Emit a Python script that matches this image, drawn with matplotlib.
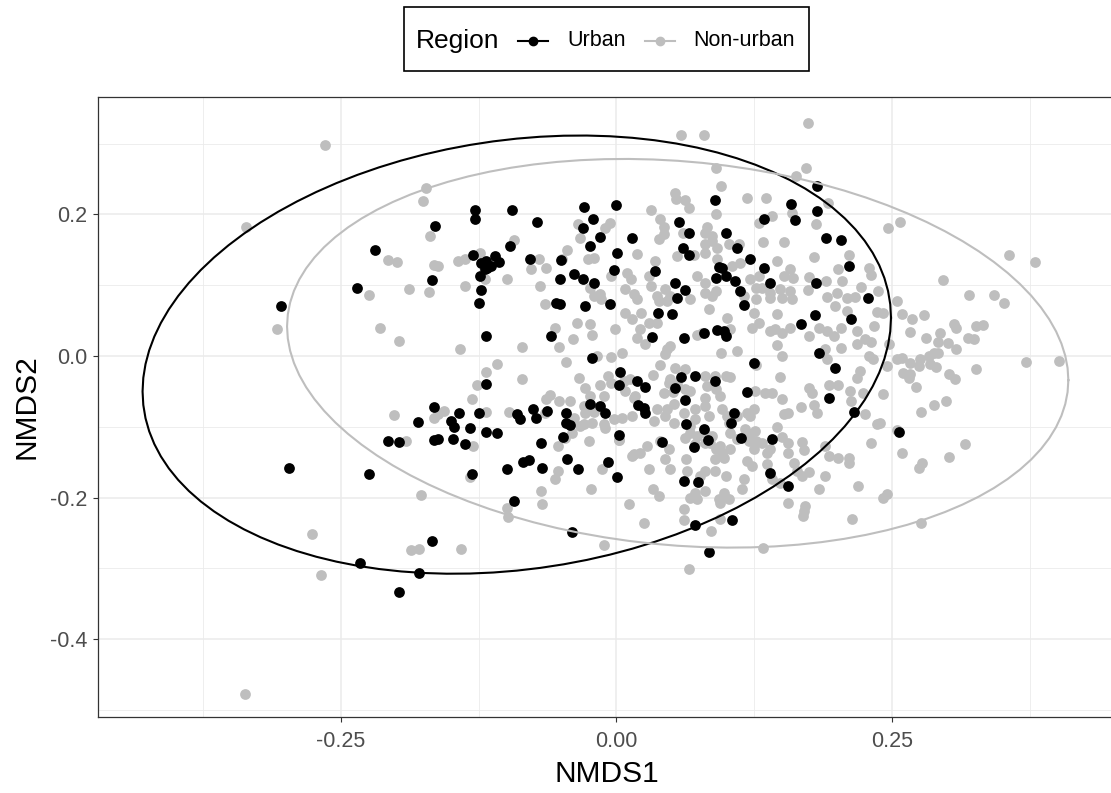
import numpy as np
import matplotlib
matplotlib.use("Agg")
import matplotlib.pyplot as plt
from matplotlib.lines import Line2D
from matplotlib.patches import Rectangle

plt.rcParams['font.family'] = ['Liberation Sans', 'DejaVu Sans']

# ---------------- data (NMDS scores) ----------------
urban_pts = [
    (-0.164, 0.184), (-0.219, 0.150), (-0.167, 0.107), (-0.235, 0.096), (-0.304, 0.071),
    (-0.165, -0.072), (-0.180, -0.093), (-0.207, -0.120), (-0.197, -0.122), (-0.165, -0.118),
    (-0.297, -0.158), (-0.224, -0.166), (-0.232, -0.292), (-0.167, -0.261), (-0.179, -0.306),
    (-0.197, -0.334), (-0.040, -0.248), (0.071, -0.239), (0.084, -0.277), (0.105, -0.232),
    (0.182, 0.240), (0.158, 0.215), (0.182, 0.205), (0.162, 0.192), (0.190, 0.167),
    (0.204, 0.164), (0.211, 0.127), (0.181, 0.103), (0.228, 0.082), (0.180, 0.058),
    (0.167, 0.045), (0.213, 0.052), (0.184, 0.004), (0.198, -0.017), (0.193, -0.059),
    (0.215, -0.079), (0.256, -0.108), (0.156, -0.183), (-0.128, 0.207), (-0.128, 0.193),
    (-0.095, 0.207), (-0.029, 0.210), (0.000, 0.214), (-0.072, 0.189), (-0.021, 0.193),
    (-0.030, 0.181), (-0.015, 0.168), (-0.024, 0.155), (-0.096, 0.155), (0.014, 0.167),
    (0.057, 0.189), (0.066, 0.174), (0.099, 0.174), (0.109, 0.152), (0.134, 0.193),
    (0.060, 0.152), (0.066, 0.143), (0.121, 0.137), (0.093, 0.126), (0.096, 0.124),
    (0.090, 0.110), (0.099, 0.113), (0.108, 0.106), (0.112, 0.092), (0.134, 0.124),
    (0.139, 0.103), (0.116, 0.072), (-0.002, 0.121), (0.001, 0.145), (0.035, 0.120),
    (0.053, 0.103), (0.062, 0.093), (0.055, 0.082), (-0.038, 0.116), (-0.030, 0.109),
    (-0.020, 0.103), (-0.051, 0.109), (-0.050, 0.135), (-0.006, 0.073), (-0.028, 0.071),
    (-0.078, 0.137), (-0.055, 0.075), (-0.051, 0.073), (-0.130, 0.143), (-0.123, 0.131),
    (-0.118, 0.134), (-0.114, 0.127), (-0.110, 0.141), (-0.106, 0.133), (-0.119, 0.123),
    (-0.124, 0.113), (-0.117, 0.124), (-0.123, 0.093), (-0.125, 0.075), (0.089, 0.220),
    (-0.118, 0.028), (-0.059, 0.028), (0.038, 0.061), (0.050, 0.059), (0.032, 0.027),
    (0.061, 0.025), (0.079, 0.033), (0.091, 0.037), (0.099, 0.028), (0.098, 0.035),
    (0.125, -0.010), (-0.022, -0.003), (-0.118, -0.040), (0.003, -0.023), (0.002, -0.041),
    (0.019, -0.035), (0.026, -0.044), (0.059, -0.030), (0.071, -0.028), (0.053, -0.045),
    (0.062, -0.062), (0.089, -0.035), (0.118, -0.051), (0.020, -0.069), (0.025, -0.073),
    (0.026, -0.081), (-0.024, -0.068), (-0.015, -0.071), (-0.010, -0.081), (-0.046, -0.081),
    (-0.046, -0.095), (-0.042, -0.098), (-0.076, -0.075), (-0.073, -0.088), (-0.090, -0.082),
    (-0.087, -0.089), (-0.063, -0.078), (-0.125, -0.081), (-0.143, -0.081), (-0.150, -0.092),
    (-0.147, -0.100), (-0.133, -0.102), (-0.118, -0.107), (-0.108, -0.109), (-0.162, -0.117),
    (-0.148, -0.117), (-0.137, -0.124), (-0.068, -0.123), (-0.048, -0.114), (0.002, -0.112),
    (-0.045, -0.145), (-0.035, -0.160), (-0.008, -0.150), (0.001, -0.171), (-0.085, -0.150),
    (-0.079, -0.147), (-0.067, -0.158), (-0.099, -0.160), (-0.131, -0.166), (-0.093, -0.205),
    (0.041, -0.121), (0.063, -0.096), (0.079, -0.103), (0.083, -0.119), (0.070, -0.128),
    (0.061, -0.176), (0.074, -0.178), (0.104, -0.095), (0.107, -0.081), (0.113, -0.116),
    (0.141, -0.117), (0.139, -0.165),
]

nonurban_pts = [
    (-0.264, 0.298), (-0.336, 0.182), (-0.173, 0.237), (-0.175, 0.219), (-0.169, 0.169),
    (-0.207, 0.135), (-0.199, 0.133), (-0.165, 0.128), (-0.224, 0.086), (-0.188, 0.095),
    (-0.170, 0.090), (-0.308, 0.038), (-0.214, 0.040), (-0.197, 0.021), (-0.202, -0.083),
    (-0.165, -0.087), (-0.191, -0.120), (-0.177, -0.196), (-0.276, -0.251), (-0.268, -0.310),
    (-0.186, -0.274), (-0.179, -0.272), (-0.337, -0.477), (-0.141, -0.272), (-0.098, -0.227),
    (-0.011, -0.267), (0.025, -0.236), (0.061, -0.232), (0.086, -0.247), (0.066, -0.301),
    (0.094, -0.230), (0.133, -0.271), (0.169, -0.226), (0.214, -0.230), (0.276, -0.236),
    (0.174, 0.329), (0.172, 0.265), (0.163, 0.255), (0.159, 0.202), (0.192, 0.216),
    (0.181, 0.186), (0.246, 0.181), (0.257, 0.189), (0.152, 0.161), (0.211, 0.143),
    (0.179, 0.140), (0.201, 0.123), (0.229, 0.124), (0.231, 0.114), (0.146, 0.134),
    (0.157, 0.123), (0.160, 0.110), (0.152, 0.113), (0.175, 0.111), (0.190, 0.106),
    (0.205, 0.106), (0.222, 0.097), (0.237, 0.092), (0.174, 0.093), (0.200, 0.089),
    (0.191, 0.083), (0.209, 0.082), (0.216, 0.083), (0.254, 0.078), (0.148, 0.095),
    (0.157, 0.092), (0.159, 0.080), (0.150, 0.082), (0.296, 0.107), (0.320, 0.086),
    (0.342, 0.086), (0.351, 0.075), (0.356, 0.143), (0.380, 0.133),
    (0.236, 0.062), (0.242, 0.061), (0.259, 0.059), (0.268, 0.052), (0.279, 0.058),
    (0.209, 0.064), (0.198, 0.071), (0.184, 0.040), (0.191, 0.035), (0.204, 0.040),
    (0.218, 0.035), (0.197, 0.028), (0.150, 0.032), (0.157, 0.040), (0.175, 0.028),
    (0.234, 0.042), (0.225, 0.024), (0.231, 0.020), (0.266, 0.034), (0.281, 0.025),
    (0.306, 0.045), (0.308, 0.040), (0.293, 0.032), (0.292, 0.020), (0.326, 0.042),
    (0.332, 0.044), (0.319, 0.025), (0.324, 0.024), (0.301, 0.018), (0.308, 0.010),
    (0.189, 0.010), (0.191, -0.004), (0.204, 0.011), (0.218, 0.017), (0.229, 0.000),
    (0.233, -0.004), (0.247, 0.017), (0.245, -0.014), (0.254, -0.004), (0.259, -0.003),
    (0.266, -0.010), (0.275, -0.004), (0.283, 0.000), (0.288, 0.004), (0.292, 0.004),
    (0.274, -0.014), (0.284, -0.011), (0.290, -0.016), (0.260, -0.024), (0.266, -0.025),
    (0.265, -0.031), (0.302, -0.025), (0.307, -0.032), (0.326, -0.018), (0.371, -0.008),
    (0.401, -0.007), (0.221, -0.021), (0.218, -0.031), (0.272, -0.044), (0.193, -0.041),
    (0.201, -0.041), (0.175, -0.045), (0.177, -0.052), (0.212, -0.049), (0.213, -0.063),
    (0.224, -0.052), (0.242, -0.054), (0.288, -0.069), (0.299, -0.064), (0.276, -0.079),
    (0.225, -0.082), (0.167, -0.072), (0.179, -0.069), (0.182, -0.081), (0.152, -0.082),
    (0.156, -0.080), (0.236, -0.096), (0.239, -0.095), (0.254, -0.105), (0.231, -0.123),
    (0.259, -0.137), (0.316, -0.124), (0.302, -0.143), (0.277, -0.151), (0.274, -0.158),
    (0.156, -0.123), (0.156, -0.137), (0.168, -0.121), (0.170, -0.133), (0.189, -0.127),
    (0.193, -0.141), (0.201, -0.144), (0.211, -0.144), (0.211, -0.151), (0.161, -0.151),
    (0.164, -0.162), (0.175, -0.164), (0.168, -0.169), (0.189, -0.169), (0.184, -0.188),
    (0.219, -0.183), (0.242, -0.200), (0.245, -0.195), (0.156, -0.207), (0.171, -0.212),
    (0.170, -0.219),
    (0.059, 0.313), (0.079, 0.312), (0.090, 0.265), (0.095, 0.240), (0.118, 0.223),
    (0.136, 0.224), (0.090, 0.200), (0.053, 0.230), (0.054, 0.222), (0.062, 0.220),
    (0.066, 0.209), (0.031, 0.207), (-0.035, 0.186), (-0.006, 0.188), (-0.010, 0.181),
    (-0.033, 0.167), (-0.093, 0.164), (0.040, 0.193), (0.043, 0.182), (0.039, 0.165),
    (0.043, 0.172), (0.060, 0.174), (0.082, 0.183), (0.080, 0.174), (0.087, 0.169),
    (0.080, 0.159), (0.087, 0.162), (0.102, 0.158), (0.111, 0.158), (0.091, 0.152),
    (0.133, 0.161), (0.129, 0.188), (0.141, 0.198), (0.055, 0.141), (0.070, 0.143),
    (0.080, 0.145), (0.091, 0.137), (0.105, 0.127), (0.112, 0.131), (0.121, 0.109),
    (0.129, 0.113), (0.127, 0.096), (0.132, 0.096), (0.139, 0.089), (0.116, 0.085),
    (0.127, 0.080), (0.139, 0.082), (0.080, 0.103), (0.073, 0.113), (0.087, 0.085),
    (0.090, 0.092), (0.019, 0.144), (0.035, 0.134), (0.030, 0.113), (-0.005, 0.113),
    (0.010, 0.117), (0.013, 0.109), (0.008, 0.095), (0.016, 0.088), (0.019, 0.080),
    (0.031, 0.099), (0.037, 0.085), (0.044, 0.095), (0.049, 0.085), (0.046, 0.078),
    (0.039, 0.078), (0.067, 0.080), (0.080, 0.089), (-0.049, 0.137), (-0.045, 0.150),
    (-0.026, 0.137), (-0.020, 0.138), (-0.024, 0.096), (-0.015, 0.088), (-0.014, 0.080),
    (-0.020, 0.085), (-0.070, 0.137), (-0.077, 0.123), (-0.064, 0.124), (-0.069, 0.099),
    (-0.065, 0.073), (-0.144, 0.134), (-0.137, 0.137), (-0.124, 0.145), (-0.119, 0.109),
    (-0.137, 0.099), (-0.099, 0.109), (-0.162, 0.127),
    (-0.142, 0.010), (-0.086, 0.013), (-0.056, 0.040), (-0.052, 0.013), (-0.039, 0.024),
    (-0.036, 0.047), (-0.024, 0.045), (-0.022, 0.030), (-0.001, 0.038), (0.008, 0.061),
    (0.022, 0.061), (0.014, 0.052), (0.030, 0.047), (0.037, 0.047), (0.021, 0.038),
    (0.019, 0.025), (0.026, 0.017), (0.073, 0.030), (0.078, 0.032), (0.046, 0.010),
    (0.044, 0.003), (0.049, 0.014), (0.084, 0.066), (0.100, 0.054), (0.103, 0.038),
    (0.125, 0.061), (0.129, 0.047), (0.123, 0.040), (0.139, 0.035), (0.144, 0.038),
    (0.095, 0.004), (0.109, 0.007), (0.127, -0.013), (-0.018, 0.000), (-0.005, -0.001),
    (0.005, 0.004), (-0.046, -0.008), (-0.108, -0.011), (-0.118, -0.023), (-0.126, -0.041),
    (-0.131, -0.061), (-0.086, -0.032), (-0.034, -0.031), (-0.028, -0.045), (-0.015, -0.041),
    (-0.008, -0.028), (-0.011, -0.056), (-0.024, -0.056), (-0.029, -0.071), (-0.005, -0.038),
    (0.012, -0.032), (0.017, -0.056), (0.033, -0.027), (0.040, -0.013), (0.049, -0.032),
    (0.053, -0.017), (0.062, -0.018), (0.080, -0.028), (0.089, -0.028), (0.082, -0.042),
    (0.090, -0.047), (0.094, -0.056), (0.080, -0.059), (0.067, -0.049), (0.099, -0.028),
    (0.103, -0.030), (0.126, -0.049), (0.135, -0.052), (0.141, -0.052), (0.037, -0.075),
    (0.046, -0.075), (0.052, -0.068), (0.044, -0.085), (0.034, -0.092), (0.052, -0.095),
    (-0.020, -0.079), (-0.028, -0.080), (-0.029, -0.096), (-0.022, -0.095), (-0.011, -0.096),
    (-0.002, -0.089), (0.005, -0.088), (0.014, -0.085), (-0.038, -0.088), (-0.042, -0.064),
    (-0.052, -0.064), (-0.060, -0.055), (-0.064, -0.061), (-0.065, -0.081), (-0.097, -0.079),
    (-0.118, -0.079), (-0.156, -0.077), (-0.162, -0.082), (-0.130, -0.127), (-0.053, -0.127),
    (-0.047, -0.116), (-0.040, -0.109), (-0.033, -0.099), (-0.025, -0.120), (-0.010, -0.102),
    (0.002, -0.118), (-0.133, -0.171), (-0.099, -0.215), (-0.068, -0.191), (-0.067, -0.209),
    (-0.056, -0.174), (-0.053, -0.162), (-0.023, -0.188), (-0.013, -0.160), (0.011, -0.209),
    (0.014, -0.141), (0.021, -0.137), (0.028, -0.127), (0.040, -0.120), (0.048, -0.131),
    (0.044, -0.145), (0.049, -0.160), (0.030, -0.160), (0.016, -0.138), (0.033, -0.188),
    (0.039, -0.198), (0.061, -0.216), (0.063, -0.145), (0.064, -0.162), (0.062, -0.116),
    (0.067, -0.109), (0.073, -0.113), (0.071, -0.124), (0.080, -0.123), (0.085, -0.123),
    (0.090, -0.131), (0.094, -0.127), (0.096, -0.137), (0.089, -0.145), (0.098, -0.144),
    (0.103, -0.131), (0.080, -0.109), (0.087, -0.113), (0.080, -0.162), (0.076, -0.169),
    (0.089, -0.162), (0.099, -0.169), (0.071, -0.193), (0.080, -0.191), (0.067, -0.200),
    (0.073, -0.202), (0.098, -0.193), (0.093, -0.202), (0.094, -0.207), (0.102, -0.202),
    (0.114, -0.188), (0.116, -0.174), (0.118, -0.148), (0.123, -0.155), (0.125, -0.131),
    (0.132, -0.123), (0.137, -0.137), (0.139, -0.131), (0.103, -0.109), (0.109, -0.117),
    (0.117, -0.103), (0.121, -0.110), (0.126, -0.106), (0.127, -0.120), (0.120, -0.120),
    (0.137, -0.152), (0.141, -0.174), (0.096, -0.075), (0.100, -0.085), (0.102, -0.095),
    (0.109, -0.085), (0.118, -0.080), (0.121, -0.085), (0.125, -0.075), (0.061, -0.080),
    (0.071, -0.075), (0.080, -0.071), (0.084, -0.085), (0.071, -0.089), (0.067, -0.099),
    (0.043, -0.052), (0.051, -0.051), (0.048, -0.038), (0.055, -0.040), (0.062, -0.047),
    (0.016, -0.059), (0.007, -0.035), (0.008, -0.049), (0.002, -0.118),
    (0.146, 0.060), (0.150, 0.000), (0.148, -0.030), (0.150, -0.060), (0.146, -0.100),
    (0.150, -0.115), (0.148, -0.180), (0.146, 0.015),
]

groups = ["Urban", "Non-urban"]
group_colors = ["#000000", "#BEBEBE"]

# 95% ellipses: centre, half-extent along x and y, xy covariance
ellipse_center = [(-0.0903, 0.0020), (0.0556, 0.0039)]
ellipse_half_x = [0.3393, 0.3542]
ellipse_half_y = [0.3096, 0.2746]
ellipse_cov_xy = [0.01766, -0.01343]

x_ticks = [-0.25, 0.00, 0.25]
x_ticklabels = ["-0.25", "0.00", "0.25"]
y_ticks = [-0.4, -0.2, 0.0, 0.2]
y_ticklabels = ["-0.4", "-0.2", "0.0", "0.2"]


def ellipse_path(center, hx, hy, sxy, segments=101):
    S = np.array([[hx ** 2, sxy], [sxy, hy ** 2]])
    R = np.linalg.cholesky(S).T
    t = np.linspace(0, 2 * np.pi, segments)
    circle = np.column_stack([np.cos(t), np.sin(t)])
    return np.asarray(center) + circle @ R


U = np.array(urban_pts)
N = np.array(nonurban_pts)

W, H = 1111, 793
fig = plt.figure(figsize=(W / 100, H / 100), dpi=100)
ax = fig.add_axes([98 / W, 1 - 717 / H, 1018 / W, 620 / H])

ax.set_xlim(-0.470, 0.453)
ax.set_ylim(-0.510, 0.366)

# grid (theme_bw)
ax.set_axisbelow(True)
ax.set_xticks(x_ticks)
ax.set_yticks(y_ticks)
ax.set_xticks([-0.375, -0.125, 0.125, 0.375], minor=True)
ax.set_yticks([-0.5, -0.3, -0.1, 0.1, 0.3], minor=True)
ax.grid(which='major', color='#EBEBEB', linewidth=1.1)
ax.grid(which='minor', color='#EBEBEB', linewidth=0.6)
ax.tick_params(which='minor', length=0)
ax.tick_params(which='major', length=3.6, width=0.8, color='#333333',
               labelsize=15.5, labelcolor='#4D4D4D')
ax.tick_params(axis='x', pad=6.5)
ax.tick_params(axis='y', pad=4)
ax.set_xticklabels(x_ticklabels)
ax.set_yticklabels(y_ticklabels)
for s in ax.spines.values():
    s.set_color('#333333')
    s.set_linewidth(0.9)

ax.scatter(N[:, 0], N[:, 1], s=60, color=group_colors[1], linewidths=0, zorder=2)
ax.scatter(U[:, 0], U[:, 1], s=60, color=group_colors[0], linewidths=0, zorder=3)

for i in range(len(groups)):
    e = ellipse_path(ellipse_center[i], ellipse_half_x[i], ellipse_half_y[i], ellipse_cov_xy[i])
    ax.plot(e[:, 0], e[:, 1], color=group_colors[i], lw=1.5, zorder=4)

ax.set_xlabel("NMDS1", fontsize=21.5, labelpad=6)
ax.set_ylabel("NMDS2", fontsize=21.5, labelpad=7)

# legend (top, inline title)
fig.add_artist(Rectangle((404 / W, 1 - 71 / H), 405 / W, 64 / H,
                         transform=fig.transFigure, fill=False,
                         edgecolor='black', linewidth=1.2))
ly = 1 - 41 / H
fig.text(416 / W, ly, "Region", fontsize=19, va='center', ha='left')
lx = [(518, 548, 567), (645, 675, 693)]
for (a, b, t), g, c in zip(lx, groups, group_colors):
    fig.add_artist(Line2D([a / W, b / W], [ly, ly], transform=fig.transFigure,
                          color=c, lw=1.5))
    fig.add_artist(Line2D([(a + b) / 2 / W], [ly], transform=fig.transFigure,
                          color=c, marker='o', markersize=6, linestyle='none'))
    fig.text(t / W, ly, g, fontsize=15.5, va='center', ha='left')

fig.savefig("out.png", dpi=100)
